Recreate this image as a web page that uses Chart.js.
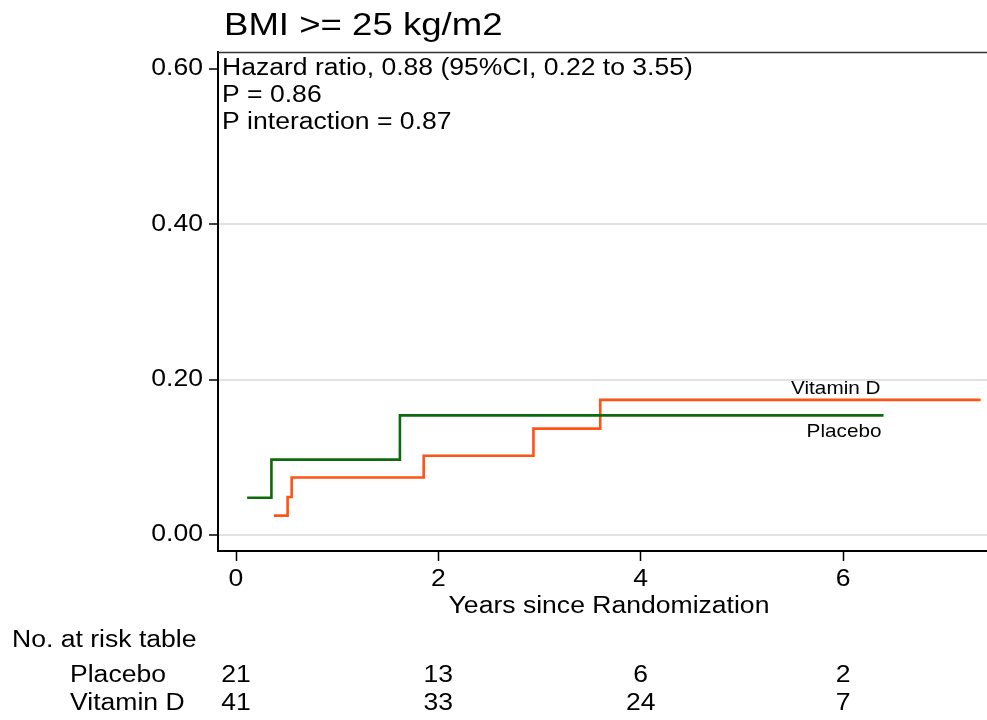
<!DOCTYPE html>
<html>
<head>
<meta charset="utf-8">
<title>BMI >= 25 kg/m2</title>
<script src="https://cdn.jsdelivr.net/npm/chart.js@4/dist/chart.umd.min.js"></script>
<style>
  html, body { margin: 0; padding: 0; background: #fff; }
  #wrap { width: 987px; height: 720px; position: relative; }
</style>
</head>
<body>
<div id="wrap"><canvas id="km"></canvas></div>
<script>
// Cumulative incidence step curves (time in years, cumulative proportion)
const placeboTimes = [0.11, 0.35, 1.62, 6.40];
const placeboRisk = [0.048, 0.097, 0.154, 0.154];
const vitaminDTimes = [0.375, 0.51, 0.55, 1.855, 2.94, 3.60, 7.36];
const vitaminDRisk = [0.025, 0.049, 0.074, 0.102, 0.137, 0.174, 0.174];

// Axis ticks
const xTicks = [0, 2, 4, 6];
const yTicks = [0, 0.2, 0.4, 0.6];

// Number-at-risk table
const riskTimes = [0, 2, 4, 6];
const placeboAtRisk = [21, 13, 6, 2];
const vitaminDAtRisk = [41, 33, 24, 7];

const titleText = 'BMI >= 25 kg/m2';
const noteLines = [
  'Hazard ratio, 0.88 (95%CI, 0.22 to 3.55)',
  'P = 0.86',
  'P interaction = 0.87'
];

const FONT = "'Liberation Sans', Arial, Helvetica, sans-serif";
const INK = '#000';
const BODY = 23.5;   // size of tick, table and note text
const BODY_SX = 1.13; // horizontal stretch of the lettering

function toPoints(ts, vs) { return ts.map((t, i) => ({ x: t, y: vs[i] })); }

function txt(ctx, s, x, y, size, align, sx) {
  ctx.save();
  ctx.translate(x, y);
  ctx.scale(sx || BODY_SX, 1);
  ctx.font = size + 'px ' + FONT;
  ctx.fillStyle = INK;
  ctx.textAlign = align || 'left';
  ctx.textBaseline = 'middle';
  ctx.fillText(s, 0, 0);
  ctx.restore();
}

const textPlugin = {
  id: 'kmText',
  afterDraw(chart) {
    const ctx = chart.ctx;
    const xs = chart.scales.x, ys = chart.scales.y;
    const area = chart.chartArea;

    // frame line along the top of the plot region
    ctx.save();
    ctx.strokeStyle = '#333';
    ctx.lineWidth = 1.5;
    ctx.beginPath();
    ctx.moveTo(area.left, area.top + 0.5);
    ctx.lineTo(area.right, area.top + 0.5);
    ctx.stroke();
    ctx.restore();

    // title and statistics
    txt(ctx, titleText, 224, 26, 31, 'left', 1.18);
    noteLines.forEach((s, i) => txt(ctx, s, 222, 69 + i * 27, BODY, 'left'));

    // tick labels
    yTicks.forEach(v => txt(ctx, v.toFixed(2), 203, ys.getPixelForValue(v), BODY, 'right'));
    xTicks.forEach(v => txt(ctx, String(v), xs.getPixelForValue(v), 580, BODY, 'center'));
    txt(ctx, 'Years since Randomization', 609, 607, BODY, 'center');

    // curve labels at the end of the placebo follow-up
    const endX = xs.getPixelForValue(placeboTimes[placeboTimes.length - 1]);
    txt(ctx, 'Vitamin D', endX - 3, ys.getPixelForValue(vitaminDRisk[vitaminDRisk.length - 1]) - 11, 18.5, 'right', 1.12);
    txt(ctx, 'Placebo', endX - 2, ys.getPixelForValue(placeboRisk[placeboRisk.length - 1]) + 17, 18.5, 'right', 1.12);

    // number-at-risk table
    txt(ctx, 'No. at risk table', 12, 641, BODY, 'left');
    txt(ctx, 'Placebo', 70, 676, BODY, 'left');
    txt(ctx, 'Vitamin D', 70, 704, BODY, 'left');
    riskTimes.forEach((t, i) => {
      const px = xs.getPixelForValue(t);
      txt(ctx, String(placeboAtRisk[i]), px, 676, BODY, 'center');
      txt(ctx, String(vitaminDAtRisk[i]), px, 704, BODY, 'center');
    });
  }
};

new Chart(document.getElementById('km'), {
  type: 'scatter',
  data: {
    datasets: [
      {
        label: 'Placebo',
        data: toPoints(placeboTimes, placeboRisk),
        showLine: true,
        stepped: 'before',
        borderColor: '#0d6a0d',
        borderWidth: 2.6,
        pointRadius: 0,
        fill: false
      },
      {
        label: 'Vitamin D',
        data: toPoints(vitaminDTimes, vitaminDRisk),
        showLine: true,
        stepped: 'before',
        borderColor: '#ff5314',
        borderWidth: 2.6,
        pointRadius: 0,
        fill: false
      }
    ]
  },
  options: {
    responsive: true,
    maintainAspectRatio: false,
    animation: false,
    layout: { padding: { top: 52, left: 0, right: 0, bottom: 0 } },
    plugins: {
      legend: { display: false },
      tooltip: { enabled: false },
      title: { display: false }
    },
    scales: {
      x: {
        type: 'linear',
        min: -0.178,
        max: 7.423,
        afterBuildTicks: s => { s.ticks = xTicks.map(v => ({ value: v })); },
        afterFit: s => { s.height = 169; },
        ticks: { display: false },
        grid: {
          drawOnChartArea: false,
          drawTicks: true,
          tickLength: 10,
          tickColor: '#000',
          tickWidth: 1.5
        },
        border: { display: true, color: '#000', width: 2 }
      },
      y: {
        type: 'linear',
        min: -0.0206,
        max: 0.6219,
        afterBuildTicks: s => { s.ticks = yTicks.map(v => ({ value: v })); },
        afterFit: s => { s.width = 218; },
        ticks: { display: false },
        grid: {
          color: c => (c.tick && c.tick.value > 0.5 ? 'rgba(0,0,0,0)' : '#e2e2e2'),
          lineWidth: 2,
          drawTicks: true,
          tickLength: 9,
          tickColor: '#000',
          tickWidth: 1.5
        },
        border: { display: true, color: '#000', width: 2 }
      }
    }
  },
  plugins: [textPlugin]
});
</script>
</body>
</html>
